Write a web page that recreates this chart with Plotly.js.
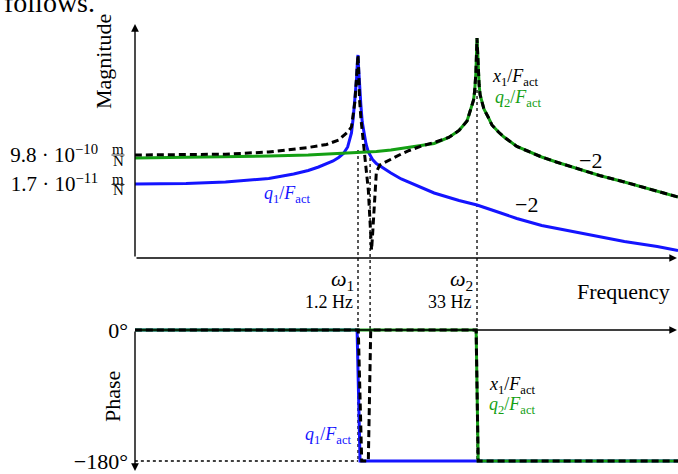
<!DOCTYPE html>
<html>
<head>
<meta charset="utf-8">
<script src="https://cdn.plot.ly/plotly-3.0.1.min.js"></script>
<style>html,body{margin:0;padding:0;background:#fff;}#chart{width:678px;height:474px;}</style>
</head>
<body>
<div id="chart"></div>
<script>
// ---------- data (frequency in Hz, magnitude in m/N, phase in degrees) ----------
const freqBlue = [0.0024,0.01,0.03,0.1,0.2,0.3,0.4,0.5,0.6,0.7,0.8,0.9,1.0,1.05,1.1,1.15,1.18,1.2,1.22,1.25,1.3,1.35,1.4,1.5,1.6,1.8,2.0,2.5,3,4,5,7,10,20,33,50,100,200,500,1000,2000,5000,8900];
const magBlue = [1.7e-11,1.82e-11,2.25e-11,3.67e-11,6.88e-11,1.12e-10,1.83e-10,2.78e-10,4.23e-10,6.91e-10,1.21e-9,3.0e-9,2.12e-8,1.73e-7,1.62e-6,3.51e-5,4.34e-4,1.16e-3,1.88e-4,1.15e-5,1.06e-6,9.88e-8,2.81e-8,4.56e-9,1.49e-9,5.22e-10,2.99e-10,1.38e-10,7.91e-11,3.42e-11,2.10e-11,1.04e-11,4.83e-12,1.69e-12,9.02e-13,4.48e-13,1.37e-13,5.13e-14,2.07e-14,1.03e-14,5.48e-15,2.73e-15,1.56e-15];

const freqGreen = [0.0024,0.01,0.03,0.1,0.3,0.6,1.2,2,3,5,7,10,15,20,25,28,30,31,32,33,34,35,36,38,40,45,50,60,70,100,200,300,500,1000,2000,5000,8900];
const magGreen = [6.44e-10,6.91e-10,7.41e-10,8.52e-10,9.8e-10,1.13e-9,1.30e-9,1.60e-9,1.97e-9,2.80e-9,3.70e-9,4.89e-9,1.13e-8,3.01e-8,1.14e-7,6.99e-7,2.14e-6,8.66e-6,1.07e-4,1.24e-2,1.42e-4,1.74e-5,4.31e-6,1.41e-6,6.08e-7,1.99e-7,6.49e-8,2.44e-8,1.21e-8,3.22e-9,7.41e-10,3.68e-10,1.71e-10,5.58e-11,2.25e-11,6.39e-12,2.76e-12];

const freqBlack = [0.0024,0.01,0.03,0.1,0.2,0.3,0.5,0.7,0.9,1.0,1.1,1.15,1.2,1.22,1.25,1.3,1.35,1.4,1.5,1.6,1.65,1.7,1.75,1.8,1.9,2.0,2.2,2.5,3,4,5,7,10,15,20,25,28,30,31,32,33,34,35,36,38,40,45,50,60,70,100,200,300,500,1000,2000,5000,8900];
const magBlack = [9.8e-10,1.01e-9,1.10e-9,1.49e-9,2.11e-9,2.80e-9,4.25e-9,7.98e-9,2.44e-8,4.91e-8,1.62e-6,3.51e-5,1.16e-3,1.88e-4,2.83e-6,1.73e-7,2.12e-8,3.97e-9,1.59e-10,7.34e-12,4.48e-13,2.74e-14,1.67e-15,1.36e-14,3.65e-12,9.10e-11,2.42e-10,3.43e-10,5.60e-10,1.13e-9,1.84e-9,3.45e-9,5.62e-9,1.13e-8,3.01e-8,1.14e-7,6.99e-7,2.14e-6,8.66e-6,1.07e-4,1.24e-2,1.42e-4,1.74e-5,4.31e-6,1.41e-6,6.08e-7,1.99e-7,6.49e-8,2.44e-8,1.21e-8,3.22e-9,7.41e-10,3.68e-10,1.71e-10,5.58e-11,2.25e-11,6.39e-12,2.76e-12];

const freqPhaseBlue = [0.0024,1.17,1.27,8900];
const phaseBlue = [0,0,-180,-180];
const freqPhaseBlack = [0.0024,1.21,1.33,1.6,1.71,32.2,34.1,8900];
const phaseBlack = [0,0,-180,-180,0,0,-180,-180];
const freqPhaseGreen = [0.0024,32.2,34.1,8900];
const phaseGreen = [0,0,-180,-180];

const magTickVals = [9.8e-10, 1.7e-11];
const magTickText = ['9.8 · 10<sup>−10</sup>', '1.7 · 10<sup>−11</sup>'];
const phaseTickVals = [0, -180];
const phaseTickText = ['0°', '−180°'];
const omega1 = 1.2, omega2 = 33, antiRes = 1.68;

// ---------- layout helpers ----------
const W = 678, H = 474, L = 135;
const px = x => (x - L) / (W - L);
const py = y => 1 - y / H;
const FONT = 'Liberation Serif, Times New Roman, serif';
const BLUE = 'rgb(20,20,255)', GREEN = 'rgb(20,160,20)', BLACK = '#000';

const traces = [
  {x: freqBlue, y: magBlue, xaxis: 'x', yaxis: 'y', mode: 'lines', line: {color: BLUE, width: 3}},
  {x: freqGreen, y: magGreen, xaxis: 'x', yaxis: 'y', mode: 'lines', line: {color: GREEN, width: 3}},
  {x: freqBlack, y: magBlack, xaxis: 'x', yaxis: 'y', mode: 'lines', line: {color: BLACK, width: 3, dash: '7px,4px'}},
  {x: freqPhaseBlue, y: phaseBlue, xaxis: 'x2', yaxis: 'y2', mode: 'lines', line: {color: BLUE, width: 3}},
  {x: freqPhaseGreen, y: phaseGreen, xaxis: 'x2', yaxis: 'y2', mode: 'lines', line: {color: GREEN, width: 3}},
  {x: freqPhaseBlack, y: phaseBlack, xaxis: 'x2', yaxis: 'y2', mode: 'lines', line: {color: BLACK, width: 3, dash: '7px,4px'}}
];

function txt(text, x, y, opts) {
  return Object.assign({text: text, xref: 'paper', yref: 'paper', x: px(x), y: py(y),
    showarrow: false, xanchor: 'center', yanchor: 'middle',
    font: {family: FONT, size: 18, color: BLACK}}, opts || {});
}
function arrow(hx, hy, ax, ay) {
  return {text: '', xref: 'paper', yref: 'paper', x: px(hx), y: py(hy), ax: ax, ay: ay,
    showarrow: true, arrowhead: 2, arrowsize: 1.1, arrowwidth: 1.4, arrowcolor: BLACK, standoff: 0, startstandoff: 0};
}
const annotations = [
  txt('follows.', 2, 20, {xanchor: 'left', yanchor: 'bottom', font: {family: FONT, size: 28, color: BLACK}}),
  txt('Magnitude', 104, 62, {textangle: -90, font: {family: FONT, size: 22, color: BLACK}}),
  txt('Phase', 112, 397, {textangle: -90, font: {family: FONT, size: 22, color: BLACK}}),
  txt('Frequency', 623, 291, {font: {family: FONT, size: 22, color: BLACK}}),
  txt('m', 118, 149, {font: {family: FONT, size: 15, color: BLACK}}),
  txt('N', 118, 161, {font: {family: FONT, size: 15, color: BLACK}}),
  txt('m', 118, 178.5, {font: {family: FONT, size: 15, color: BLACK}}),
  txt('N', 118, 190.5, {font: {family: FONT, size: 15, color: BLACK}}),
  txt('<i>ω</i><sub>1</sub>', 356, 280, {xanchor: 'right', font: {family: FONT, size: 22, color: BLACK}}),
  txt('1.2 Hz', 355, 302, {xanchor: 'right', font: {family: FONT, size: 18, color: BLACK}}),
  txt('<i>ω</i><sub>2</sub>', 475, 280, {xanchor: 'right', font: {family: FONT, size: 22, color: BLACK}}),
  txt('33 Hz', 474, 302, {xanchor: 'right', font: {family: FONT, size: 18, color: BLACK}}),
  txt('−2', 590, 160, {font: {family: FONT, size: 22, color: BLACK}}),
  txt('−2', 526, 205, {font: {family: FONT, size: 22, color: BLACK}}),
  txt('<i>q</i><sub>1</sub>/<i>F</i><sub>act</sub>', 287, 194, {font: {family: FONT, size: 18, color: BLUE}}),
  txt('<i>x</i><sub>1</sub>/<i>F</i><sub>act</sub>', 515, 77, {font: {family: FONT, size: 18, color: BLACK}}),
  txt('<i>q</i><sub>2</sub>/<i>F</i><sub>act</sub>', 518, 98, {font: {family: FONT, size: 18, color: GREEN}}),
  txt('<i>q</i><sub>1</sub>/<i>F</i><sub>act</sub>', 328, 435, {font: {family: FONT, size: 18, color: BLUE}}),
  txt('<i>x</i><sub>1</sub>/<i>F</i><sub>act</sub>', 512, 385, {font: {family: FONT, size: 18, color: BLACK}}),
  txt('<i>q</i><sub>2</sub>/<i>F</i><sub>act</sub>', 512, 405, {font: {family: FONT, size: 18, color: GREEN}}),
  arrow(135, 24, 0, 234),
  arrow(677, 258, -542, 0),
  arrow(677, 330, -542, 0),
  arrow(135, 471, 0, -141)
];

const dotted = {color: BLACK, width: 1.3, dash: 'dot'};
const shapes = [
  {type: 'line', xref: 'paper', yref: 'paper', x0: px(111.5), x1: px(124.5), y0: py(155), y1: py(155), line: {color: BLACK, width: 0.8}},
  {type: 'line', xref: 'paper', yref: 'paper', x0: px(111.5), x1: px(124.5), y0: py(184.5), y1: py(184.5), line: {color: BLACK, width: 0.8}},
  {type: 'line', xref: 'x', yref: 'paper', x0: omega1, x1: omega1, y0: py(150), y1: py(461), line: dotted, layer: 'below'},
  {type: 'line', xref: 'x', yref: 'paper', x0: antiRes, x1: antiRes, y0: py(152), y1: py(330), line: dotted, layer: 'below'},
  {type: 'line', xref: 'x', yref: 'paper', x0: omega2, x1: omega2, y0: py(90), y1: py(461), line: dotted, layer: 'below'},
  {type: 'line', xref: 'x', yref: 'paper', x0: 0.0024, x1: omega1, y0: py(461), y1: py(461), line: dotted, layer: 'below'}
];

const xCommon = {type: 'log', range: [-2.618, 3.9495], showgrid: false, zeroline: false, showline: false, showticklabels: false, ticks: ''};
const layout = {
  width: W, height: H,
  margin: {l: L, r: 0, t: 0, b: 0, pad: 0},
  paper_bgcolor: '#fff', plot_bgcolor: 'rgba(0,0,0,0)',
  showlegend: false,
  xaxis: Object.assign({domain: [0, 1], anchor: 'y'}, xCommon),
  xaxis2: Object.assign({domain: [0, 1], anchor: 'y2', matches: 'x'}, xCommon),
  yaxis: {type: 'log', domain: [py(258), py(20)], range: [-15.2628, -0.8123], anchor: 'x',
    tickvals: magTickVals, ticktext: magTickText, ticks: '', showgrid: false, zeroline: false, showline: false,
    ticklabelstandoff: 36, tickfont: {family: FONT, size: 21, color: BLACK}},
  yaxis2: {domain: [py(470), py(322)], range: [-192.37, 10.99], anchor: 'x2',
    tickvals: phaseTickVals, ticktext: phaseTickText, ticks: '', showgrid: false, zeroline: false, showline: false,
    ticklabelstandoff: 6, tickfont: {family: FONT, size: 22, color: BLACK}},
  annotations: annotations,
  shapes: shapes
};

Plotly.newPlot('chart', traces, layout, {displayModeBar: false, staticPlot: true});
</script>
</body>
</html>
